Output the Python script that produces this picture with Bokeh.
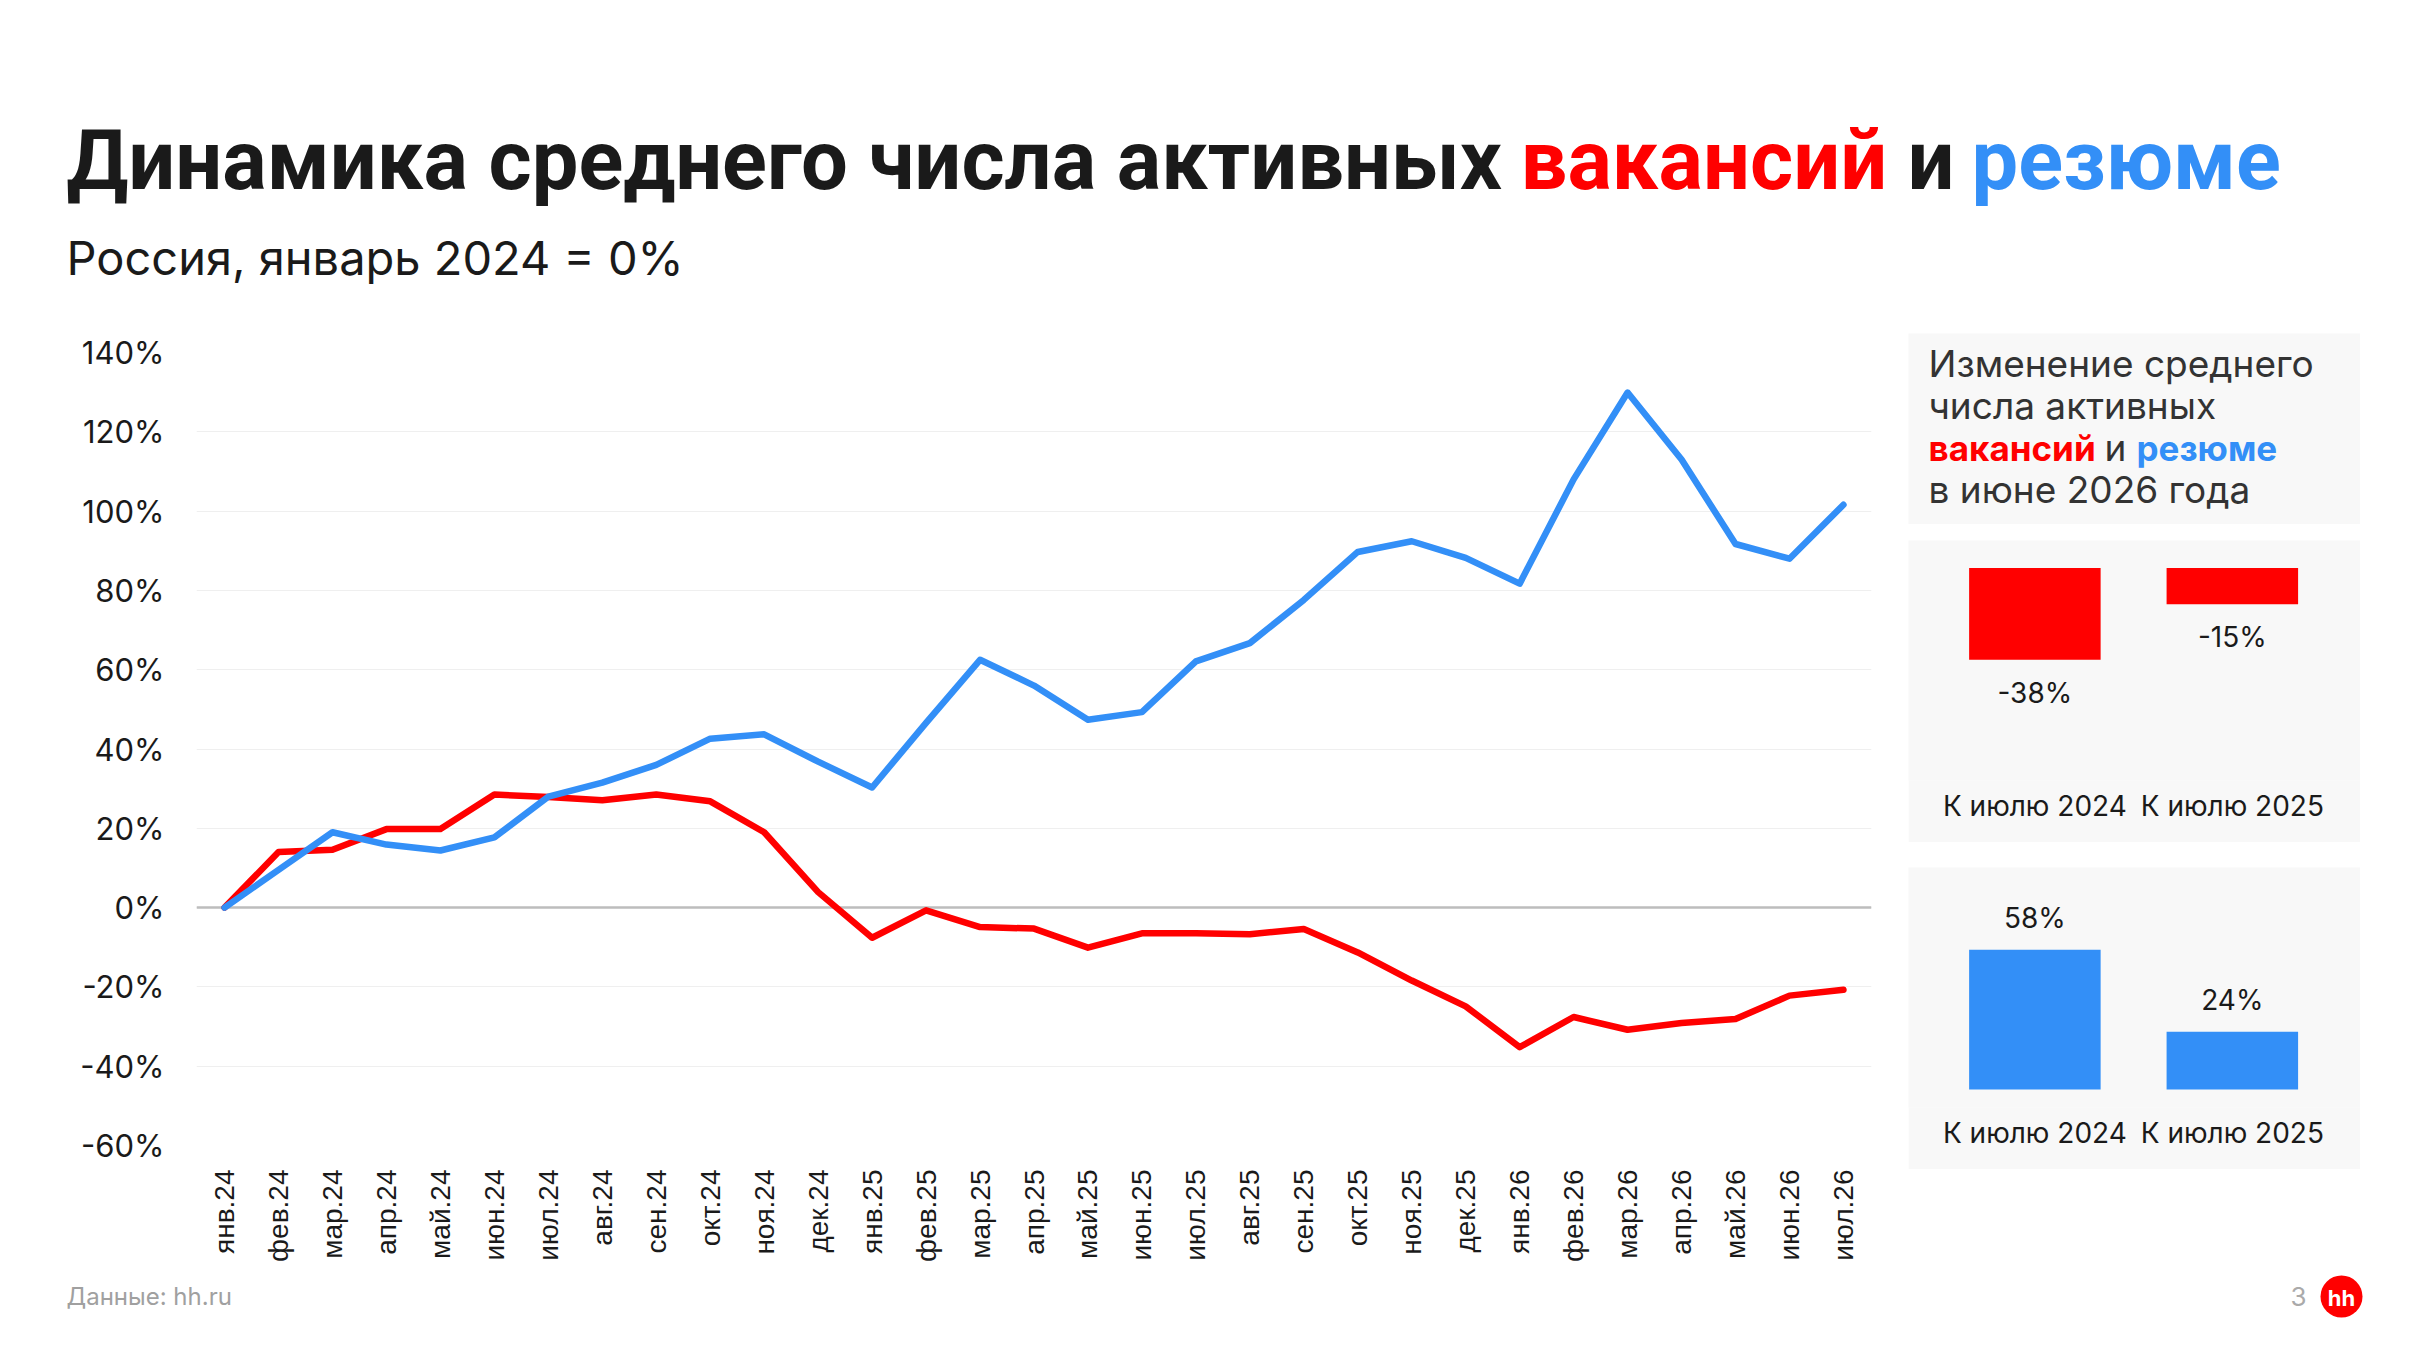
import math
from bokeh.plotting import figure
from bokeh.models import Range1d, FixedTicker, Span, Spacer
from bokeh.layouts import row, column
from bokeh.core.properties import value
from bokeh.embed import file_html
from bokeh.resources import INLINE

# ---------------- data ----------------
months = ["янв.24", "фев.24", "мар.24", "апр.24", "май.24", "июн.24", "июл.24", "авг.24",
          "сен.24", "окт.24", "ноя.24", "дек.24", "янв.25", "фев.25", "мар.25", "апр.25",
          "май.25", "июн.25", "июл.25", "авг.25", "сен.25", "окт.25", "ноя.25", "дек.25",
          "янв.26", "фев.26", "мар.26", "апр.26", "май.26", "июн.26", "июл.26"]
vacancies = [0, 14.0, 14.6, 19.8, 19.8, 28.5, 27.9, 27.1, 28.5, 26.8, 19.0, 3.9, -7.6, -0.7,
             -4.9, -5.3, -10.1, -6.5, -6.5, -6.7, -5.4, -11.3, -18.4, -24.9, -35.2, -27.6,
             -30.8, -29.1, -28.1, -22.2, -20.7]
resumes = [0, 9.5, 19.0, 15.9, 14.4, 17.7, 28.0, 31.5, 36.0, 42.6, 43.7, 36.8, 30.3, 46.6,
           62.5, 56.0, 47.4, 49.3, 62.1, 66.7, 77.6, 89.7, 92.4, 88.2, 81.7, 108.0, 129.9,
           113.0, 91.7, 88.0, 101.6]
y_ticks = [-60, -40, -20, 0, 20, 40, 60, 80, 100, 120, 140]
bar_categories = ["К июлю 2024", "К июлю 2025"]
vac_change = [-38, -15]
res_change = [58, 24]

RED = "#ff0000"
BLUE = "#338ff7"
DARK = "#1a1a1a"
PANEL_BG = "#f8f8f8"
INTER = value("Inter")
ROBOTO = value("Roboto")

W = 2406
HEADER_H = 300
MID_H = 962
FOOTER_H = 88


def blank_fig(w, h, bg="white"):
    f = figure(width=w, height=h, x_range=Range1d(0, w), y_range=Range1d(h, 0),
               output_backend="svg", toolbar_location=None,
               x_axis_location=None, y_axis_location=None,
               min_border=0, min_border_left=0, min_border_right=0,
               min_border_top=0, min_border_bottom=0)
    f.grid.visible = False
    f.outline_line_color = None
    f.background_fill_color = bg
    f.border_fill_color = bg
    return f


# ---------------- header ----------------
header = blank_fig(W, HEADER_H)
title_parts = [("Динамика среднего числа активных", 58, DARK),
               ("вакансий", 1512, RED),
               ("и", 1899, DARK),
               ("резюме", 1963, BLUE)]
for txt, x, col in title_parts:
    header.text(x=[x], y=[152], text=[txt], text_font=ROBOTO, text_font_style="bold",
                text_font_size="83px", text_color=col, text_baseline="middle",
                text_align="left")
header.text(x=[58], y=[249], text=["Россия, январь 2024 = 0%"], text_font=INTER,
            text_font_size="47px", text_color=DARK, text_baseline="middle",
            text_align="left")

# ---------------- main chart ----------------
idx = list(range(len(months)))
p = figure(width=1900, height=MID_H, x_range=Range1d(-0.52, len(months) - 1 + 0.52),
           y_range=Range1d(y_ticks[0], y_ticks[-1]),
           output_backend="svg", toolbar_location=None,
           min_border_left=188, min_border_right=37, min_border_top=44,
           min_border_bottom=125)
p.outline_line_color = None
p.xgrid.visible = False
p.ygrid.grid_line_color = "#efefef"
p.ygrid.grid_line_width = 1

p.xaxis.ticker = FixedTicker(ticks=idx)
p.xaxis.major_label_overrides = {i: m for i, m in zip(idx, months)}
p.xaxis.major_label_orientation = math.pi / 2
p.xaxis.major_label_text_font = "Liberation Sans"
p.xaxis.major_label_text_font_size = "28px"
p.xaxis.major_label_text_color = DARK
p.xaxis.major_label_standoff = 18
p.xaxis.axis_line_color = None
p.xaxis.major_tick_line_color = None
p.xaxis.minor_tick_line_color = None

p.yaxis.ticker = FixedTicker(ticks=y_ticks)
p.yaxis.major_label_overrides = {t: f"{t}%" for t in y_ticks}
p.yaxis.major_label_text_font = "Inter"
p.yaxis.major_label_text_font_size = "31px"
p.yaxis.major_label_text_color = DARK
p.yaxis.major_label_standoff = 26
p.yaxis.axis_line_color = None
p.yaxis.major_tick_line_color = None
p.yaxis.minor_tick_line_color = None

p.add_layout(Span(location=0, dimension="width", line_color="#bdbdbd", line_width=2.5,
                  level="underlay"))
p.line(idx, vacancies, line_color=RED, line_width=6.5, line_join="round", line_cap="round")
p.line(idx, resumes, line_color=BLUE, line_width=6.5, line_join="round", line_cap="round")

# ---------------- side panels ----------------
panel1 = blank_fig(452, 191, PANEL_BG)
for txt, y in [("Изменение среднего", 30), ("числа активных", 72), ("в июне 2026 года", 156)]:
    panel1.text(x=[20], y=[y], text=[txt], text_font=INTER, text_font_size="37px",
                text_color="#333333", text_baseline="middle", text_align="left")
for txt, x, col, style in [("вакансий", 20, RED, "bold"), ("и", 196, "#333333", "normal"),
                           ("резюме", 228, BLUE, "bold")]:
    panel1.text(x=[x], y=[114], text=[txt], text_font=INTER, text_font_style=style,
                text_font_size="35px" if style == "bold" else "37px", text_color=col,
                text_baseline="middle", text_align="left")

PX_PER_PCT = 2.41
FRAME_H = 240


def bar_panel(vals, color, baseline_local, label_offset):
    bottom = -(FRAME_H - baseline_local) / PX_PER_PCT
    top = bottom + FRAME_H / PX_PER_PCT
    f = figure(width=452, height=302, x_range=Range1d(-0.64, 1.649),
               y_range=Range1d(bottom, top), output_backend="svg",
               toolbar_location=None, y_axis_location=None,
               min_border_left=0, min_border_right=0, min_border_top=0,
               min_border_bottom=302 - FRAME_H)
    f.grid.visible = False
    f.outline_line_color = None
    f.background_fill_color = PANEL_BG
    f.border_fill_color = PANEL_BG
    xs = list(range(len(bar_categories)))
    f.vbar(x=xs, top=vals, bottom=0, width=0.666, fill_color=color, line_color=None)
    f.text(x=xs, y=vals, text=[f"{v}%" for v in vals], text_font=INTER,
           text_font_size="28px", text_color=DARK, text_align="center",
           text_baseline="middle", y_offset=label_offset)
    f.xaxis.ticker = FixedTicker(ticks=xs)
    f.xaxis.major_label_overrides = {i: c for i, c in zip(xs, bar_categories)}
    f.xaxis.major_label_text_font = "Inter"
    f.xaxis.major_label_text_font_size = "28px"
    f.xaxis.major_label_text_color = DARK
    f.xaxis.major_label_standoff = 2
    f.xaxis.axis_line_color = None
    f.xaxis.major_tick_line_color = None
    f.xaxis.minor_tick_line_color = None
    return f


panel2 = bar_panel(vac_change, RED, 27.6, 33)
panel3 = bar_panel(res_change, BLUE, 222, -32)

right_col = column(Spacer(width=452, height=25), panel1, Spacer(width=452, height=16),
                   panel2, Spacer(width=452, height=25), panel3)

# ---------------- footer ----------------
footer = blank_fig(W, FOOTER_H)
footer.text(x=[58], y=[26], text=["Данные: hh.ru"], text_font=INTER, text_font_size="24px",
            text_color="#a0a0a0", text_baseline="middle", text_align="left")
footer.text(x=[2290], y=[26], text=["3"], text_font=INTER, text_font_size="26px",
            text_color="#aaaaaa", text_baseline="middle", text_align="center")
footer.scatter(x=[2333], y=[26], marker="circle", size=42, fill_color=RED, line_color=None)
footer.text(x=[2333], y=[27], text=["hh"], text_font=INTER, text_font_style="bold",
            text_font_size="22px", text_color="white", text_baseline="middle",
            text_align="center")

page = column(header, row(p, right_col), footer)
layout = column(Spacer(width=W + 8, height=8),
                row(Spacer(width=8, height=HEADER_H + MID_H + FOOTER_H), page))

open("out.html", "w").write(file_html(layout, INLINE))
